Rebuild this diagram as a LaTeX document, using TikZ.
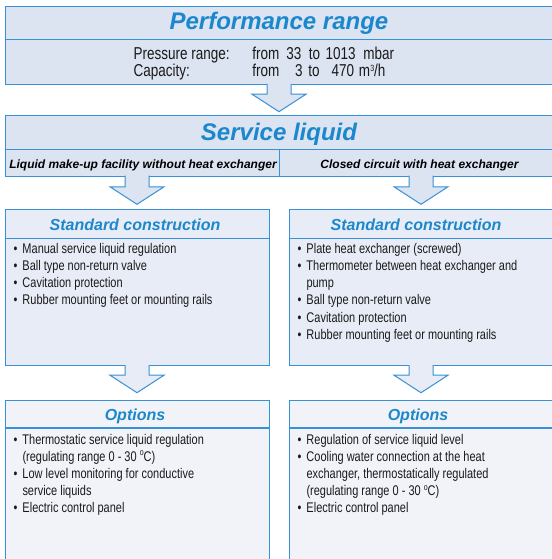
\documentclass[tikz,border=0pt]{standalone}
\usepackage{fontspec}
\setmainfont{Liberation Sans}
\newfontfamily\narrowfont[FakeStretch=0.785]{Liberation Sans}
\definecolor{hdrfill}{HTML}{DCE3F1}
\definecolor{stdfill}{HTML}{E8ECF6}
\definecolor{optfill}{HTML}{F1F3F9}
\definecolor{bcol}{HTML}{3791D6}
\definecolor{tcol}{HTML}{1B87CC}
\definecolor{txt}{HTML}{1A1A1A}
\newcommand\placeat[2]{\makebox[0pt][l]{\hspace{#1pt}#2}}
\newcommand\blt{\makebox[9pt][l]{•}}
\newcommand\cnt{\hspace*{9pt}}
\newcommand\smallsup[1]{\raisebox{5.5pt}{\fontsize{9}{9}\selectfont #1}}
\newcommand\blockarrow[4]{%
  \fill[#1] (#2-12,#3-1) -- (#2-12,#4-17.5) -- (#2-27,#4-17.5) -- (#2,#4)
    -- (#2+27,#4-17.5) -- (#2+12,#4-17.5) -- (#2+12,#3-1) -- cycle;
  \draw[arrowline] (#2-12,#3) -- (#2-12,#4-17.5) -- (#2-27,#4-17.5) -- (#2,#4)
    -- (#2+27,#4-17.5) -- (#2+12,#4-17.5) -- (#2+12,#3);}
\tikzset{
  panel/.style={draw=bcol, line width=1.1pt, fill=#1, anchor=north west,
    inner sep=0pt, rectangle},
  divline/.style={draw=bcol, line width=1.3pt},
  arrowline/.style={draw=bcol, line width=1.0pt, line join=miter},
  bigtitle/.style={text=tcol, inner sep=0pt, anchor=base,
    font=\fontsize{24}{28}\selectfont\bfseries\itshape},
  midtitle/.style={text=tcol, inner sep=0pt, anchor=base,
    font=\fontsize{16}{19}\selectfont\bfseries\itshape},
  subhead/.style={text=black, inner sep=0pt, anchor=base,
    font=\fontsize{12}{14}\selectfont\bfseries\itshape},
  perftext/.style={text=txt, inner sep=0pt, anchor=base west,
    font=\narrowfont\fontsize{17.2}{20}\selectfont},
  listtext/.style={text=txt, inner sep=0pt, anchor=base west,
    font=\narrowfont\fontsize{14}{17.2}\selectfont},
}
\begin{document}
\begin{tikzpicture}[x=1pt,y=-1pt]
\useasboundingbox (0,0) rectangle (551,559);
\fill[white] (0,0) rectangle (551,559);
% Performance range
\node[panel=hdrfill, minimum width=555pt, minimum height=77.8pt] (perf) at (5,6) {};
\draw[divline] (5,39.5) -- (560,39.5);
\node[bigtitle] (perftitle) at (279,29.1) {Performance range};
\node[perftext] (plabel) at (133.3,59.5) {Pressure range:};
\node[perftext] (pvals) at (251.7,59.5) {\placeat{0}{from}\placeat{34}{33}\placeat{56.6}{to}\placeat{73.3}{1013}\placeat{111}{mbar}};
\node[perftext] (clabel) at (133.3,77) {Capacity:};
\node[perftext] (cvals) at (251.7,77) {\placeat{0}{from}\placeat{42.6}{3}\placeat{56}{to}\placeat{79.3}{470}\placeat{106.6}{m\smallsup{3}/h}};
% Service liquid
\node[panel=hdrfill, minimum width=555pt, minimum height=60.5pt] (serv) at (5,115) {};
\draw[divline] (5,149.3) -- (560,149.3);
\draw[divline] (279.3,149.3) -- (279.3,175.5);
\node[bigtitle] (servtitle) at (279,140.5) {Service liquid};
\node[subhead] (sub1) at (143,168) {Liquid make-up facility without heat exchanger};
\node[subhead] (sub2) at (419.5,168) {Closed circuit with heat exchanger};
% Standard construction
\node[panel=stdfill, minimum width=264pt, minimum height=156.5pt] (stdl) at (5,208.5) {};
\node[panel=stdfill, minimum width=270pt, minimum height=156.5pt] (stdr) at (289.3,208.5) {};
\draw[divline] (5,238.3) -- (269,238.3);
\draw[divline] (289.3,238.3) -- (560,238.3);
\node[midtitle] (stdltitle) at (135,230.7) {Standard construction};
\node[midtitle] (stdrtitle) at (416,230.7) {Standard construction};
\node[listtext] (stdllist) at (13.3,253.3) {\parbox[t]{250pt}{\raggedright
\blt Manual service liquid regulation\\
\blt Ball type non-return valve\\
\blt Cavitation protection\\
\blt Rubber mounting feet or mounting rails}};
\node[listtext] (stdrlist) at (297.3,253.3) {\parbox[t]{250pt}{\raggedright
\blt Plate heat exchanger (screwed)\\
\blt Thermometer between heat exchanger and\\
\cnt pump\\
\blt Ball type non-return valve\\
\blt Cavitation protection\\
\blt Rubber mounting feet or mounting rails}};
% Options
\node[panel=optfill, minimum width=264pt, minimum height=170pt] (optl) at (5,400) {};
\node[panel=optfill, minimum width=270pt, minimum height=170pt] (optr) at (289.3,400) {};
\draw[divline] (5,428) -- (269,428);
\draw[divline] (289.3,428) -- (560,428);
\node[midtitle] (optltitle) at (135,420.7) {Options};
\node[midtitle] (optrtitle) at (418,420.7) {Options};
\node[listtext] (optllist) at (13.3,444) {\parbox[t]{250pt}{\raggedright
\blt Thermostatic service liquid regulation\\
\cnt (regulating range 0 - 30 \smallsup{o}C)\\
\blt Low level monitoring for conductive\\
\cnt service liquids\\
\blt Electric control panel}};
\node[listtext] (optrlist) at (297.3,444) {\parbox[t]{250pt}{\raggedright
\blt Regulation of service liquid level\\
\blt Cooling water connection at the heat\\
\cnt exchanger, thermostatically regulated\\
\cnt (regulating range 0 - 30 \smallsup{o}C)\\
\blt Electric control panel}};
% Arrows
\blockarrow{hdrfill}{279}{83.8}{111.7}
\blockarrow{hdrfill}{137}{175.5}{204.3}
\blockarrow{hdrfill}{421}{175.5}{204.3}
\blockarrow{stdfill}{137}{365}{392.7}
\blockarrow{stdfill}{421}{365}{392.7}
\end{tikzpicture}
\end{document}
